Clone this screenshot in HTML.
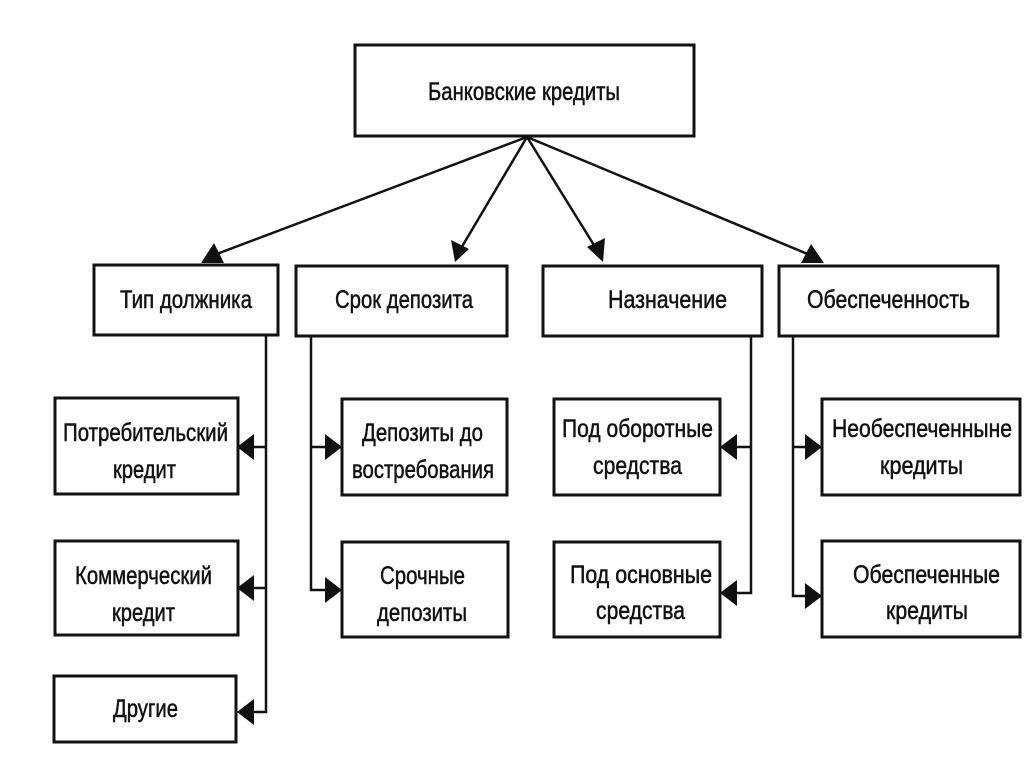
<!DOCTYPE html>
<html><head><meta charset="utf-8"><style>
html,body{margin:0;padding:0;background:#fff;}
svg{display:block;}
text{font-family:"Liberation Sans",Arial,sans-serif;font-size:25px;fill:#111;stroke:#111;stroke-width:0.5;}
</style></head><body>
<svg width="1024" height="767" viewBox="0 0 1024 767" xmlns="http://www.w3.org/2000/svg">
<g fill="none" stroke="#111" stroke-width="3">
<rect x="355" y="45" width="339" height="91"/>
<rect x="94" y="265" width="184" height="70"/>
<rect x="296" y="266" width="211" height="70"/>
<rect x="543" y="266" width="219" height="70"/>
<rect x="779" y="266" width="219" height="70"/>
<rect x="55" y="398" width="183" height="96"/>
<rect x="55" y="541" width="183" height="94"/>
<rect x="54" y="676" width="182" height="66"/>
<rect x="342" y="399" width="165" height="96"/>
<rect x="342" y="542" width="166" height="95"/>
<rect x="554" y="399" width="166" height="96"/>
<rect x="554" y="542" width="166" height="95"/>
<rect x="822" y="399" width="198" height="96"/>
<rect x="822" y="541" width="198" height="96"/>
</g>
<g fill="none" stroke="#111" stroke-width="2.5">
<line x1="527" y1="137" x2="214" y2="255"/>
<line x1="527" y1="137" x2="460" y2="250"/>
<line x1="527" y1="137" x2="597" y2="250"/>
<line x1="527" y1="137" x2="810" y2="255"/>
<polyline points="266,336 266,712 244,712"/>
<line x1="266" y1="447" x2="244" y2="447"/>
<line x1="266" y1="588" x2="244" y2="588"/>
<polyline points="311,336 311,590 334,590"/>
<line x1="311" y1="447" x2="334" y2="447"/>
<polyline points="751,336 751,593 728,593"/>
<line x1="751" y1="447" x2="728" y2="447"/>
<polyline points="793,336 793,596 814,596"/>
<line x1="793" y1="447" x2="814" y2="447"/>
</g>
<g fill="#111">
<polygon points="201,263 214,243 224,263"/>
<polygon points="455,262 451,240 469,249"/>
<polygon points="603,262 587,247 605,238"/>
<polygon points="824,263 801,263 811,244"/>
<polygon points="237,447 254,434 254,460"/>
<polygon points="237,588 254,575 254,601"/>
<polygon points="237,712 254,699 254,725"/>
<polygon points="342,447 325,434 325,460"/>
<polygon points="342,590 325,577 325,603"/>
<polygon points="720,447 737,434 737,460"/>
<polygon points="720,593 737,580 737,606"/>
<polygon points="822,447 805,434 805,460"/>
<polygon points="822,596 805,583 805,609"/>
</g>
<text x="428" y="100" textLength="192" lengthAdjust="spacingAndGlyphs">Банковские кредиты</text>
<text x="120" y="308" textLength="132" lengthAdjust="spacingAndGlyphs">Тип должника</text>
<text x="335" y="308" textLength="138" lengthAdjust="spacingAndGlyphs">Срок депозита</text>
<text x="608" y="308" textLength="119" lengthAdjust="spacingAndGlyphs">Назначение</text>
<text x="807" y="308" textLength="163" lengthAdjust="spacingAndGlyphs">Обеспеченность</text>
<text x="63" y="441" textLength="165" lengthAdjust="spacingAndGlyphs">Потребительский</text>
<text x="113" y="478" textLength="63" lengthAdjust="spacingAndGlyphs">кредит</text>
<text x="75" y="584" textLength="137" lengthAdjust="spacingAndGlyphs">Коммерческий</text>
<text x="112" y="621" textLength="63" lengthAdjust="spacingAndGlyphs">кредит</text>
<text x="113" y="717" textLength="65" lengthAdjust="spacingAndGlyphs">Другие</text>
<text x="362" y="441" textLength="121" lengthAdjust="spacingAndGlyphs">Депозиты до</text>
<text x="352" y="478" textLength="142" lengthAdjust="spacingAndGlyphs">востребования</text>
<text x="380" y="584" textLength="85" lengthAdjust="spacingAndGlyphs">Срочные</text>
<text x="377" y="621" textLength="90" lengthAdjust="spacingAndGlyphs">депозиты</text>
<text x="562" y="437" textLength="151" lengthAdjust="spacingAndGlyphs">Под оборотные</text>
<text x="593" y="474" textLength="89" lengthAdjust="spacingAndGlyphs">средства</text>
<text x="570" y="583" textLength="142" lengthAdjust="spacingAndGlyphs">Под основные</text>
<text x="596" y="619" textLength="89" lengthAdjust="spacingAndGlyphs">средства</text>
<text x="832" y="437" textLength="180" lengthAdjust="spacingAndGlyphs">Необеспеченныне</text>
<text x="880" y="474" textLength="83" lengthAdjust="spacingAndGlyphs">кредиты</text>
<text x="853" y="583" textLength="147" lengthAdjust="spacingAndGlyphs">Обеспеченные</text>
<text x="886" y="619" textLength="82" lengthAdjust="spacingAndGlyphs">кредиты</text>
</svg>
</body></html>
